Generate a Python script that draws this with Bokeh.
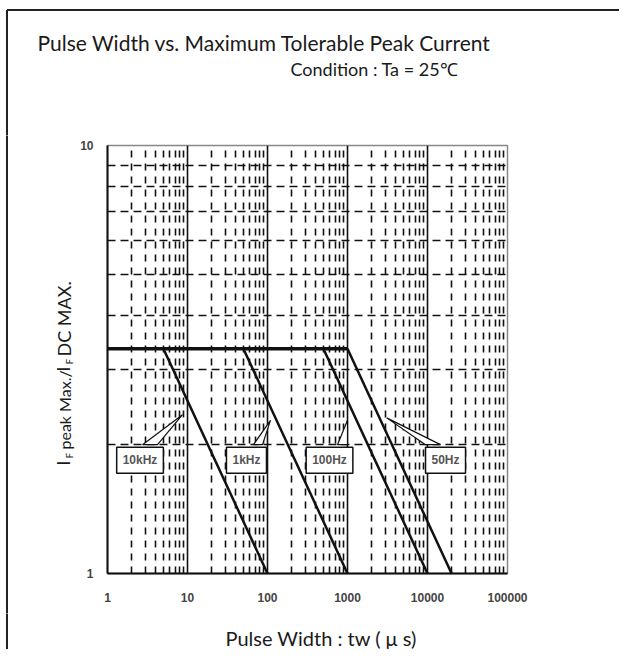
import math
from bokeh.plotting import figure
from bokeh.layouts import column, row
from bokeh.models import Label, Range1d, FixedTicker, Grid
from bokeh.embed import file_html
from bokeh.resources import INLINE

# ---------------- data ----------------
x_tick_values = [1, 10, 100, 1000, 10000, 100000]
x_tick_labels = ["1", "10", "100", "1000", "10000", "100000"]
y_tick_values = [1, 10]
y_tick_labels = ["1", "10"]
decade_lines = [10, 100, 1000, 10000]
decade_starts = [1, 10, 100, 1000, 10000]
minor_multipliers = [2, 3, 4, 5, 6, 7, 8, 9]

flat_pulse_width = [1, 1000]
flat_ratio = [3.35, 3.35]

freq_labels = ["10kHz", "1kHz", "100Hz", "50Hz"]
slope_pw_start = [5, 50, 500, 1000]
slope_pw_end = [100, 1000, 10000, 20000]
slope_ratio_start = [3.35, 3.35, 3.35, 3.35]
slope_ratio_end = [1, 1, 1, 1]

callout_box_x = [2.55, 54.6, 596, 16800]
callout_box_y = [1.84, 1.84, 1.84, 1.84]
leader_tip_x = [8.66, 109, 1000, 3090]
leader_tip_y = [2.35, 2.28, 2.28, 2.31]
leader_base_x0 = [2.74, 66.8, 750, 9440]
leader_base_x1 = [4.22, 86.6, 1000, 14500]
leader_base_y = [2.0, 2.0, 2.0, 2.0]

TITLE = "Pulse Width vs. Maximum Tolerable Peak Current"
CONDITION = "Condition : Ta = 25℃"
XLABEL = "Pulse Width : tw ( μ s)"

# ---------------- geometry (px) ----------------
TOTAL_W = 619
TOTAL_H = 649
TOP_H = 135
LEFT_W = 76
MAIN_W = TOTAL_W - LEFT_W
MB_LEFT, MB_TOP, MB_BOTTOM = 31, 10, 40
FRAME_W, FRAME_H = 400, 428
MB_RIGHT = MAIN_W - MB_LEFT - FRAME_W
ROW_H = MB_TOP + FRAME_H + MB_BOTTOM
BOT_H = TOTAL_H - TOP_H - ROW_H

INK = "#111111"
TXT = "#1a1a1a"
EDGE = "#222222"
MID = 0.387  # Lato: distance from baseline to text-box middle, in em


def blank_fig(w, h):
    f = figure(width=w, height=h, x_range=Range1d(0, w), y_range=Range1d(h, 0),
               title=None, output_backend="svg", toolbar_location=None,
               x_axis_location=None, y_axis_location=None,
               min_border=0, min_border_left=0, min_border_right=0,
               min_border_top=0, min_border_bottom=0)
    f.frame_align = False
    f.outline_line_color = None
    f.xgrid.visible = False
    f.ygrid.visible = False
    f.background_fill_color = "white"
    f.border_fill_color = "white"
    return f


def text_at(fig, x, baseline_y, text, size, angle=0.0):
    # place text so that its alphabetic baseline sits at baseline_y (or at x when rotated)
    if angle:
        fig.add_layout(Label(x=x - MID * size, y=baseline_y, text=text, angle=angle,
                             text_font="Lato", text_font_size=f"{size}px", text_color=TXT,
                             text_align="left", text_baseline="middle"))
    else:
        fig.add_layout(Label(x=x, y=baseline_y - MID * size, text=text,
                             text_font="Lato", text_font_size=f"{size}px", text_color=TXT,
                             text_align="left", text_baseline="middle"))


# ---------------- top strip (titles) ----------------
top = blank_fig(TOTAL_W, TOP_H)
top.segment(x0=[6.5, 6.5], y0=[9.5, 9.5], x1=[TOTAL_W + 5, 6.5], y1=[9.5, TOP_H + 5],
            line_color=EDGE, line_width=2)
text_at(top, 37, 50, TITLE, 21)
text_at(top, 290, 75, CONDITION, 18)

# ---------------- left strip (y label) ----------------
left = blank_fig(LEFT_W, ROW_H)
left.segment(x0=[6.5], y0=[-5], x1=[6.5], y1=[ROW_H + 5], line_color=EDGE, line_width=2)
ang = math.pi / 2
ylabel_pieces = [  # (text, baseline x, start y (page), size)
    ("I", 70, 465, 17),
    ("F", 72.5, 458, 10),
    ("peak Max./", 70, 449, 16),
    ("I", 70, 371, 17),
    ("F", 72.5, 364, 10),
    ("DC MAX.", 70, 356, 18),
]
for t, bx, sy, sz in ylabel_pieces:
    text_at(left, bx, sy - TOP_H, t, sz, angle=ang)

# ---------------- bottom strip (x label) ----------------
bottom = blank_fig(TOTAL_W, BOT_H)
bottom.segment(x0=[6.5], y0=[-5], x1=[6.5], y1=[BOT_H + 5], line_color=EDGE, line_width=2)
text_at(bottom, 225, 645 - (TOP_H + ROW_H), XLABEL, 20)

# ---------------- main chart ----------------
p = figure(width=MAIN_W, height=ROW_H, x_axis_type="log", y_axis_type="log",
           x_range=Range1d(1, 100000), y_range=Range1d(1, 10), title=None,
           output_backend="svg", toolbar_location=None,
           min_border_left=MB_LEFT, min_border_right=MB_RIGHT,
           min_border_top=MB_TOP, min_border_bottom=MB_BOTTOM)
p.frame_align = False
p.background_fill_color = "white"
p.border_fill_color = "white"
p.outline_line_color = "#888888"
p.outline_line_width = 1.5
p.xgrid.visible = False
p.ygrid.visible = False

minor_x = [m * d for d in decade_starts for m in minor_multipliers]
p.add_layout(Grid(dimension=0, ticker=FixedTicker(ticks=minor_x),
                  grid_line_color=INK, grid_line_width=1.6, grid_line_dash="7 6"))
p.add_layout(Grid(dimension=1, ticker=FixedTicker(ticks=minor_multipliers),
                  grid_line_color=INK, grid_line_width=1.6, grid_line_dash="8 5"))
p.add_layout(Grid(dimension=0, ticker=FixedTicker(ticks=decade_lines),
                  grid_line_color=INK, grid_line_width=1.6))

for ax in (p.xaxis[0], p.yaxis[0]):
    ax.major_tick_out = 0
    ax.major_tick_in = 0
    ax.minor_tick_out = 0
    ax.minor_tick_in = 0
    ax.axis_line_color = INK
    ax.axis_line_width = 2
    ax.major_label_text_font = "Liberation Sans"
    ax.major_label_text_font_style = "bold"
    ax.major_label_text_font_size = "12px"
    ax.major_label_text_color = "#444444"

p.xaxis.ticker = FixedTicker(ticks=x_tick_values)
p.xaxis.major_label_overrides = {v: s for v, s in zip(x_tick_values, x_tick_labels)}
p.xaxis.major_label_standoff = 19
p.yaxis.ticker = FixedTicker(ticks=y_tick_values)
p.yaxis.major_label_overrides = {v: s for v, s in zip(y_tick_values, y_tick_labels)}
p.yaxis.major_label_standoff = 14

p.line(flat_pulse_width, flat_ratio, line_width=3.5, color=INK)
p.segment(x0=slope_pw_start, y0=slope_ratio_start, x1=slope_pw_end, y1=slope_ratio_end,
          line_width=2.5, color=INK)

xs = [[a, t, b] for a, t, b in zip(leader_base_x0, leader_tip_x, leader_base_x1)]
ys = [[by, ty, by] for by, ty in zip(leader_base_y, leader_tip_y)]
p.patches(xs, ys, fill_color="white", line_color=INK, line_width=1.2)

for name, bx, by in zip(freq_labels, callout_box_x, callout_box_y):
    p.add_layout(Label(x=bx, y=by, text=name, text_align="center", text_baseline="middle",
                       text_font="Liberation Sans", text_font_size="12px",
                       text_font_style="bold", text_color="#555555", border_line_color=INK,
                       border_line_width=1.5, background_fill_color="white", padding=6))

layout = column(top, row(left, p, spacing=0), bottom, spacing=0)
open("out.html", "w").write(file_html(layout, INLINE))
